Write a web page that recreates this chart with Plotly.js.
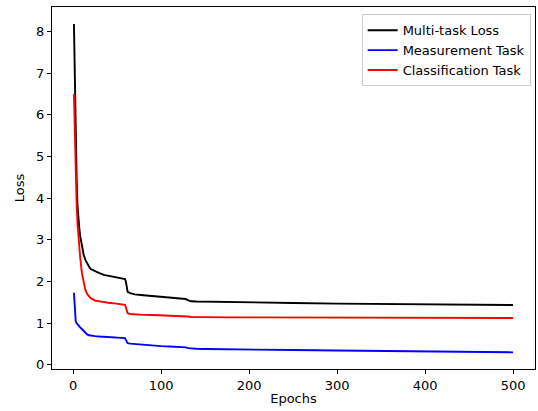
<!DOCTYPE html>
<html>
<head>
<meta charset="utf-8">
<script src="https://cdn.plot.ly/plotly-3.0.1.min.js"></script>
<style>html,body{margin:0;padding:0;background:#fff;}#chart{width:538px;height:411px;}</style>
</head>
<body>
<div id="chart"></div>
<script>
const epochs = [1,2,3,4,5,6,7,8,10,12,14,16,18,20,25,30,35,40,45,50,55,59,60,61,62,65,70,80,90,100,110,120,128,131,134,140,150,175,200,250,300,350,400,450,500];
const multiTaskLoss = [8.18,6.6,5.3,4.5,3.85,3.5,3.3,3.1,2.85,2.65,2.52,2.42,2.36,2.3,2.24,2.2,2.16,2.14,2.12,2.1,2.08,2.06,2.0,1.8,1.75,1.72,1.69,1.67,1.65,1.63,1.61,1.59,1.58,1.55,1.525,1.52,1.515,1.505,1.5,1.485,1.47,1.46,1.45,1.44,1.435];
const measurementTask = [1.73,1.2,1.05,1.0,0.97,0.94,0.92,0.9,0.86,0.82,0.76,0.73,0.71,0.7,0.69,0.68,0.67,0.665,0.66,0.655,0.645,0.64,0.6,0.54,0.52,0.51,0.5,0.48,0.465,0.45,0.44,0.43,0.42,0.4,0.39,0.385,0.38,0.37,0.365,0.355,0.345,0.335,0.32,0.31,0.3];
const classificationTask = [6.5,5.4,4.6,3.9,3.4,3.05,2.9,2.6,2.2,1.95,1.8,1.7,1.64,1.6,1.54,1.52,1.5,1.49,1.48,1.47,1.45,1.44,1.38,1.27,1.24,1.22,1.21,1.2,1.195,1.19,1.185,1.18,1.175,1.16,1.15,1.145,1.145,1.14,1.14,1.135,1.13,1.13,1.128,1.126,1.125];
const seriesNames = ["Multi-task Loss","Measurement Task","Classification Task"];
const seriesColors = ["#000000","#0000ff","#ff0000"];
const seriesValues = [multiTaskLoss, measurementTask, classificationTask];

const traces = seriesValues.map((v,i)=>({
  x: epochs, y: v, type:'scatter', mode:'lines', name: seriesNames[i],
  line:{color: seriesColors[i], width:1.9}
}));

const font = {family:'DejaVu Sans, sans-serif', size:13, color:'#000'};
const axisCommon = {
  showline:true, mirror:true, linecolor:'#000', linewidth:1,
  ticks:'outside', ticklen:4, tickwidth:1, tickcolor:'#000',
  showgrid:false, zeroline:false, tickfont:font
};
const layout = {
  width:538, height:411,
  margin:{l:52,r:3,t:7,b:42},
  paper_bgcolor:'#fff', plot_bgcolor:'#fff',
  font: font,
  showlegend:true,
  legend:{x:0.991, y:0.98, xanchor:'right', yanchor:'top',
    bgcolor:'rgba(255,255,255,0.8)', bordercolor:'#cccccc', borderwidth:1,
    font:font, tracegroupgap:0},
  xaxis: Object.assign({}, axisCommon, {range:[-23.95,524.95], tickvals:[0,100,200,300,400,500],
    title:{text:'Epochs', font:font, standoff:2}}),
  yaxis: Object.assign({}, axisCommon, {range:[-0.1,8.59], tickvals:[0,1,2,3,4,5,6,7,8],
    title:{text:'Loss', font:font, standoff:8}})
};
Plotly.newPlot('chart', traces, layout, {displayModeBar:false, staticPlot:true});
</script>
</body>
</html>
